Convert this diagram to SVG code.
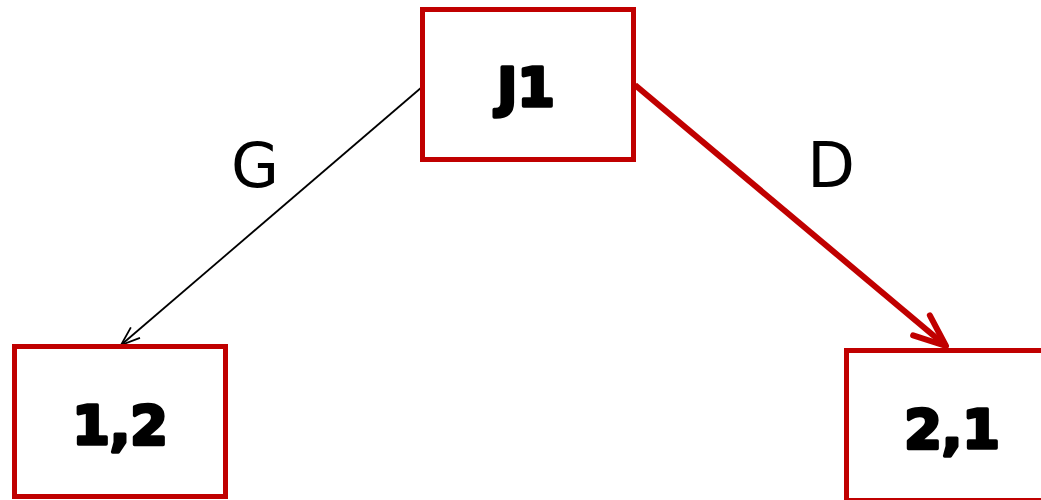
<svg xmlns="http://www.w3.org/2000/svg" width="1041" height="500" viewBox="0 0 1041 500">
  <style>
    .box { fill: #ffffff; stroke: #c00000; stroke-width: 5; }
    .node-text { font-family: "DejaVu Sans", Verdana, sans-serif; font-weight: bold; font-size: 54px; fill: #000; stroke: #000; stroke-width: 3.5; stroke-linejoin: round; text-anchor: middle; }
    .edge-label { font-family: "DejaVu Sans", Verdana, sans-serif; font-size: 62px; fill: #000; text-anchor: middle; }
  </style>
  <defs>
    <marker id="open-thin" markerUnits="userSpaceOnUse" viewBox="-20 -10 22 20" refX="0" refY="0" markerWidth="22" markerHeight="20" orient="auto" overflow="visible">
      <path d="M -19 -7 L 0 0 L -19 7" fill="none" stroke="#000" stroke-width="1.8"/>
    </marker>
    <marker id="open-thick" markerUnits="userSpaceOnUse" viewBox="-40 -20 44 40" refX="0" refY="0" markerWidth="44" markerHeight="40" orient="auto" overflow="visible">
      <path d="M -32 -13 L 0 0 L -32 13" fill="none" stroke="#c00000" stroke-width="6" stroke-linecap="round" stroke-linejoin="round"/>
    </marker>
  </defs>

  <g id="connectors">
    <line x1="422" y1="87" x2="121" y2="345" stroke="#000" stroke-width="1.8" marker-end="url(#open-thin)"/>
    <line x1="635" y1="85" x2="946" y2="346" stroke="#c00000" stroke-width="6" marker-end="url(#open-thick)"/>
    <text class="edge-label" x="255" y="187">G</text>
    <text class="edge-label" x="831" y="187">D</text>
  </g>

  <g id="node-j1">
    <rect class="box" x="422.5" y="9.5" width="211" height="150"/>
    <text class="node-text" x="526" y="106">J1</text>
  </g>

  <g id="node-1-2">
    <rect class="box" x="14.5" y="346.5" width="211" height="150"/>
    <text class="node-text" x="120" y="444">1,2</text>
  </g>

  <g id="node-2-1">
    <rect class="box" x="846.5" y="350.5" width="211" height="150"/>
    <text class="node-text" x="952" y="448">2,1</text>
  </g>
</svg>
